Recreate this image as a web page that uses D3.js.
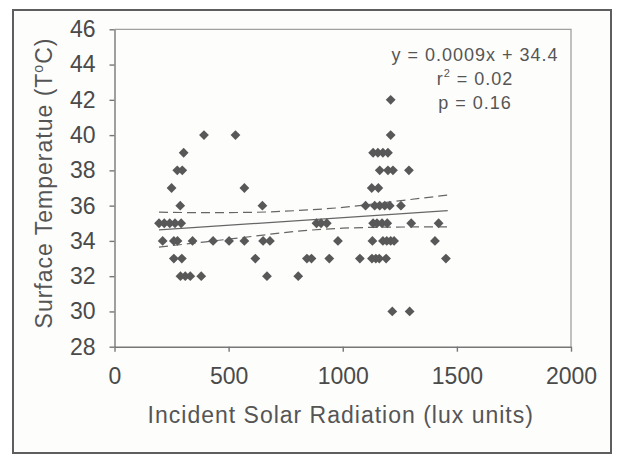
<!DOCTYPE html>
<html>
<head>
<meta charset="utf-8">
<script src="https://cdn.jsdelivr.net/npm/d3@7"></script>
<style>
  body { margin: 0; background: #fff; }
  svg { display: block; font-family: 'Liberation Sans', Arial, sans-serif; }
</style>
</head>
<body>
<svg id="chart" width="619" height="459"></svg>
<script>
// values
let radiation = [
  1210,
  392, 530, 1210,
  303, 1133, 1154, 1176, 1198,
  275, 297, 1162, 1198, 1220, 1290,
  250, 569, 1127, 1156,
  288, 648, 1100, 1140, 1162, 1184, 1206, 1255,
  195, 218, 242, 265, 292, 885, 905, 930, 1133, 1150, 1172, 1195, 1300, 1420,
  211, 260, 276, 342, 432, 502, 569, 651, 681, 979, 1130, 1176, 1193, 1210, 1225, 1404,
  260, 295, 617, 843, 863, 941, 1075, 1128, 1145, 1160, 1190, 1452,
  289, 310, 332, 380, 668, 805,
  1217, 1293
]
let temperature = [
  42,
  40, 40, 40,
  39, 39, 39, 39, 39,
  38, 38, 38, 38, 38, 38,
  37, 37, 37, 37,
  36, 36, 36, 36, 36, 36, 36, 36,
  35, 35, 35, 35, 35, 35, 35, 35, 35, 35, 35, 35, 35, 35,
  34, 34, 34, 34, 34, 34, 34, 34, 34, 34, 34, 34, 34, 34, 34, 34,
  33, 33, 33, 33, 33, 33, 33, 33, 33, 33, 33, 33,
  32, 32, 32, 32, 32, 32,
  30, 30
]

// fitted line and 95% band
let fitLine = [[195, 34.62], [1460, 35.72]]
let upperBand = [[195, 35.63], [400, 35.6], [600, 35.62], [800, 35.72], [1000, 35.9], [1200, 36.2], [1460, 36.6]]
let lowerBand = [[195, 33.65], [400, 33.95], [600, 34.25], [800, 34.55], [1000, 34.72], [1200, 34.78], [1460, 34.8]]

let xTicks = [0, 500, 1000, 1500, 2000]
let yTicks = [28, 30, 32, 34, 36, 38, 40, 42, 44, 46]
let statLines = ['y = 0.0009x + 34.4', 'r2 = 0.02', 'p = 0.16']

let margin = { top: 29.3, left: 114.5, right: 48, bottom: 112.3 }
let width = 619 - margin.left - margin.right
let height = 459 - margin.top - margin.bottom

let svg = d3.select('#chart')

// outer frame
svg
  .append('rect')
  .attr('x', 13)
  .attr('y', 10)
  .attr('width', 598)
  .attr('height', 443)
  .attr('fill', '#fdfdfc')
  .attr('stroke', '#5e5e5e')
  .attr('stroke-width', 2)

let g = svg.append('g').attr('transform', `translate(${margin.left},${margin.top})`)

let xScale = d3.scaleLinear().domain([0, 2000]).range([0, width])
let yScale = d3.scaleLinear().domain([28, 46]).range([height, 0])

// plot box (top and right edges)
g.append('path')
  .attr('d', `M0,0H${width}V${height}`)
  .attr('fill', 'none')
  .attr('stroke', '#a0a0a0')
  .attr('stroke-width', 1.3)

let xAxis = d3
  .axisBottom(xScale)
  .tickValues(xTicks)
  .tickFormat(d3.format('d'))
  .tickSize(5)
  .tickPadding(16)
  .tickSizeOuter(0)
let yAxis = d3
  .axisLeft(yScale)
  .tickValues(yTicks)
  .tickFormat(d3.format('d'))
  .tickSize(5)
  .tickPadding(14)
  .tickSizeOuter(0)

g.append('g')
  .attr('transform', `translate(0,${height})`)
  .call(xAxis)
  .attr('font-family', null)
  .attr('font-size', 23)
  .call(a => a.selectAll('text').attr('fill', '#4a4a4a'))

g.append('g')
  .call(yAxis)
  .attr('font-family', null)
  .attr('font-size', 23)
  .call(a => a.selectAll('text').attr('fill', '#4a4a4a'))

g.selectAll('.domain, .tick line').attr('stroke', '#777').attr('stroke-width', 1.4)

// axis titles
svg
  .append('text')
  .attr('x', (margin.left + 571) / 2 - 2)
  .attr('y', 423)
  .attr('text-anchor', 'middle')
  .attr('font-size', 23)
  .attr('letter-spacing', 1)
  .attr('fill', '#555')
  .text('Incident Solar Radiation (lux units)')

let yTitle = svg
  .append('text')
  .attr('transform', 'translate(52,183) rotate(-90)')
  .attr('text-anchor', 'middle')
  .attr('font-size', 23)
  .attr('letter-spacing', 1)
  .attr('fill', '#555')
yTitle.append('tspan').text('Surface Temperatue (T')
yTitle.append('tspan').attr('font-size', 14).attr('dy', -9).text('o')
yTitle.append('tspan').attr('dy', 9).text('C)')

// band and fit
let line = d3
  .line()
  .x(d => xScale(d[0]))
  .y(d => yScale(d[1]))
  .curve(d3.curveMonotoneX)

g.selectAll('.band')
  .data([upperBand, lowerBand])
  .enter()
  .append('path')
  .attr('class', 'band')
  .attr('d', line)
  .attr('fill', 'none')
  .attr('stroke', '#666')
  .attr('stroke-width', 1.2)
  .attr('stroke-dasharray', '9,5')

g.append('path')
  .datum(fitLine)
  .attr('d', line)
  .attr('fill', 'none')
  .attr('stroke', '#666')
  .attr('stroke-width', 1.2)

// points
let points = radiation.map((r, i) => ({ x: r, y: temperature[i] }))
let diamond = d3.symbol(d3.symbolSquare).size(48)

g.selectAll('.pt')
  .data(points)
  .enter()
  .append('path')
  .attr('class', 'pt')
  .attr('d', diamond)
  .attr('transform', d => `translate(${xScale(d.x)},${yScale(d.y)}) rotate(45)`)
  .attr('fill', '#585858')

// regression stats
let stats = svg
  .append('g')
  .attr('font-size', 18)
  .attr('letter-spacing', 1)
  .attr('fill', '#555')
  .attr('text-anchor', 'middle')

statLines.forEach((s, i) => {
  let t = stats.append('text').attr('x', 475).attr('y', 61 + i * 24)
  if (s.startsWith('r2')) {
    t.append('tspan').text('r')
    t.append('tspan').attr('font-size', 11).attr('dy', -8).text('2')
    t.append('tspan').attr('dy', 8).text(s.slice(2))
  } else {
    t.text(s)
  }
})
</script>
</body>
</html>
